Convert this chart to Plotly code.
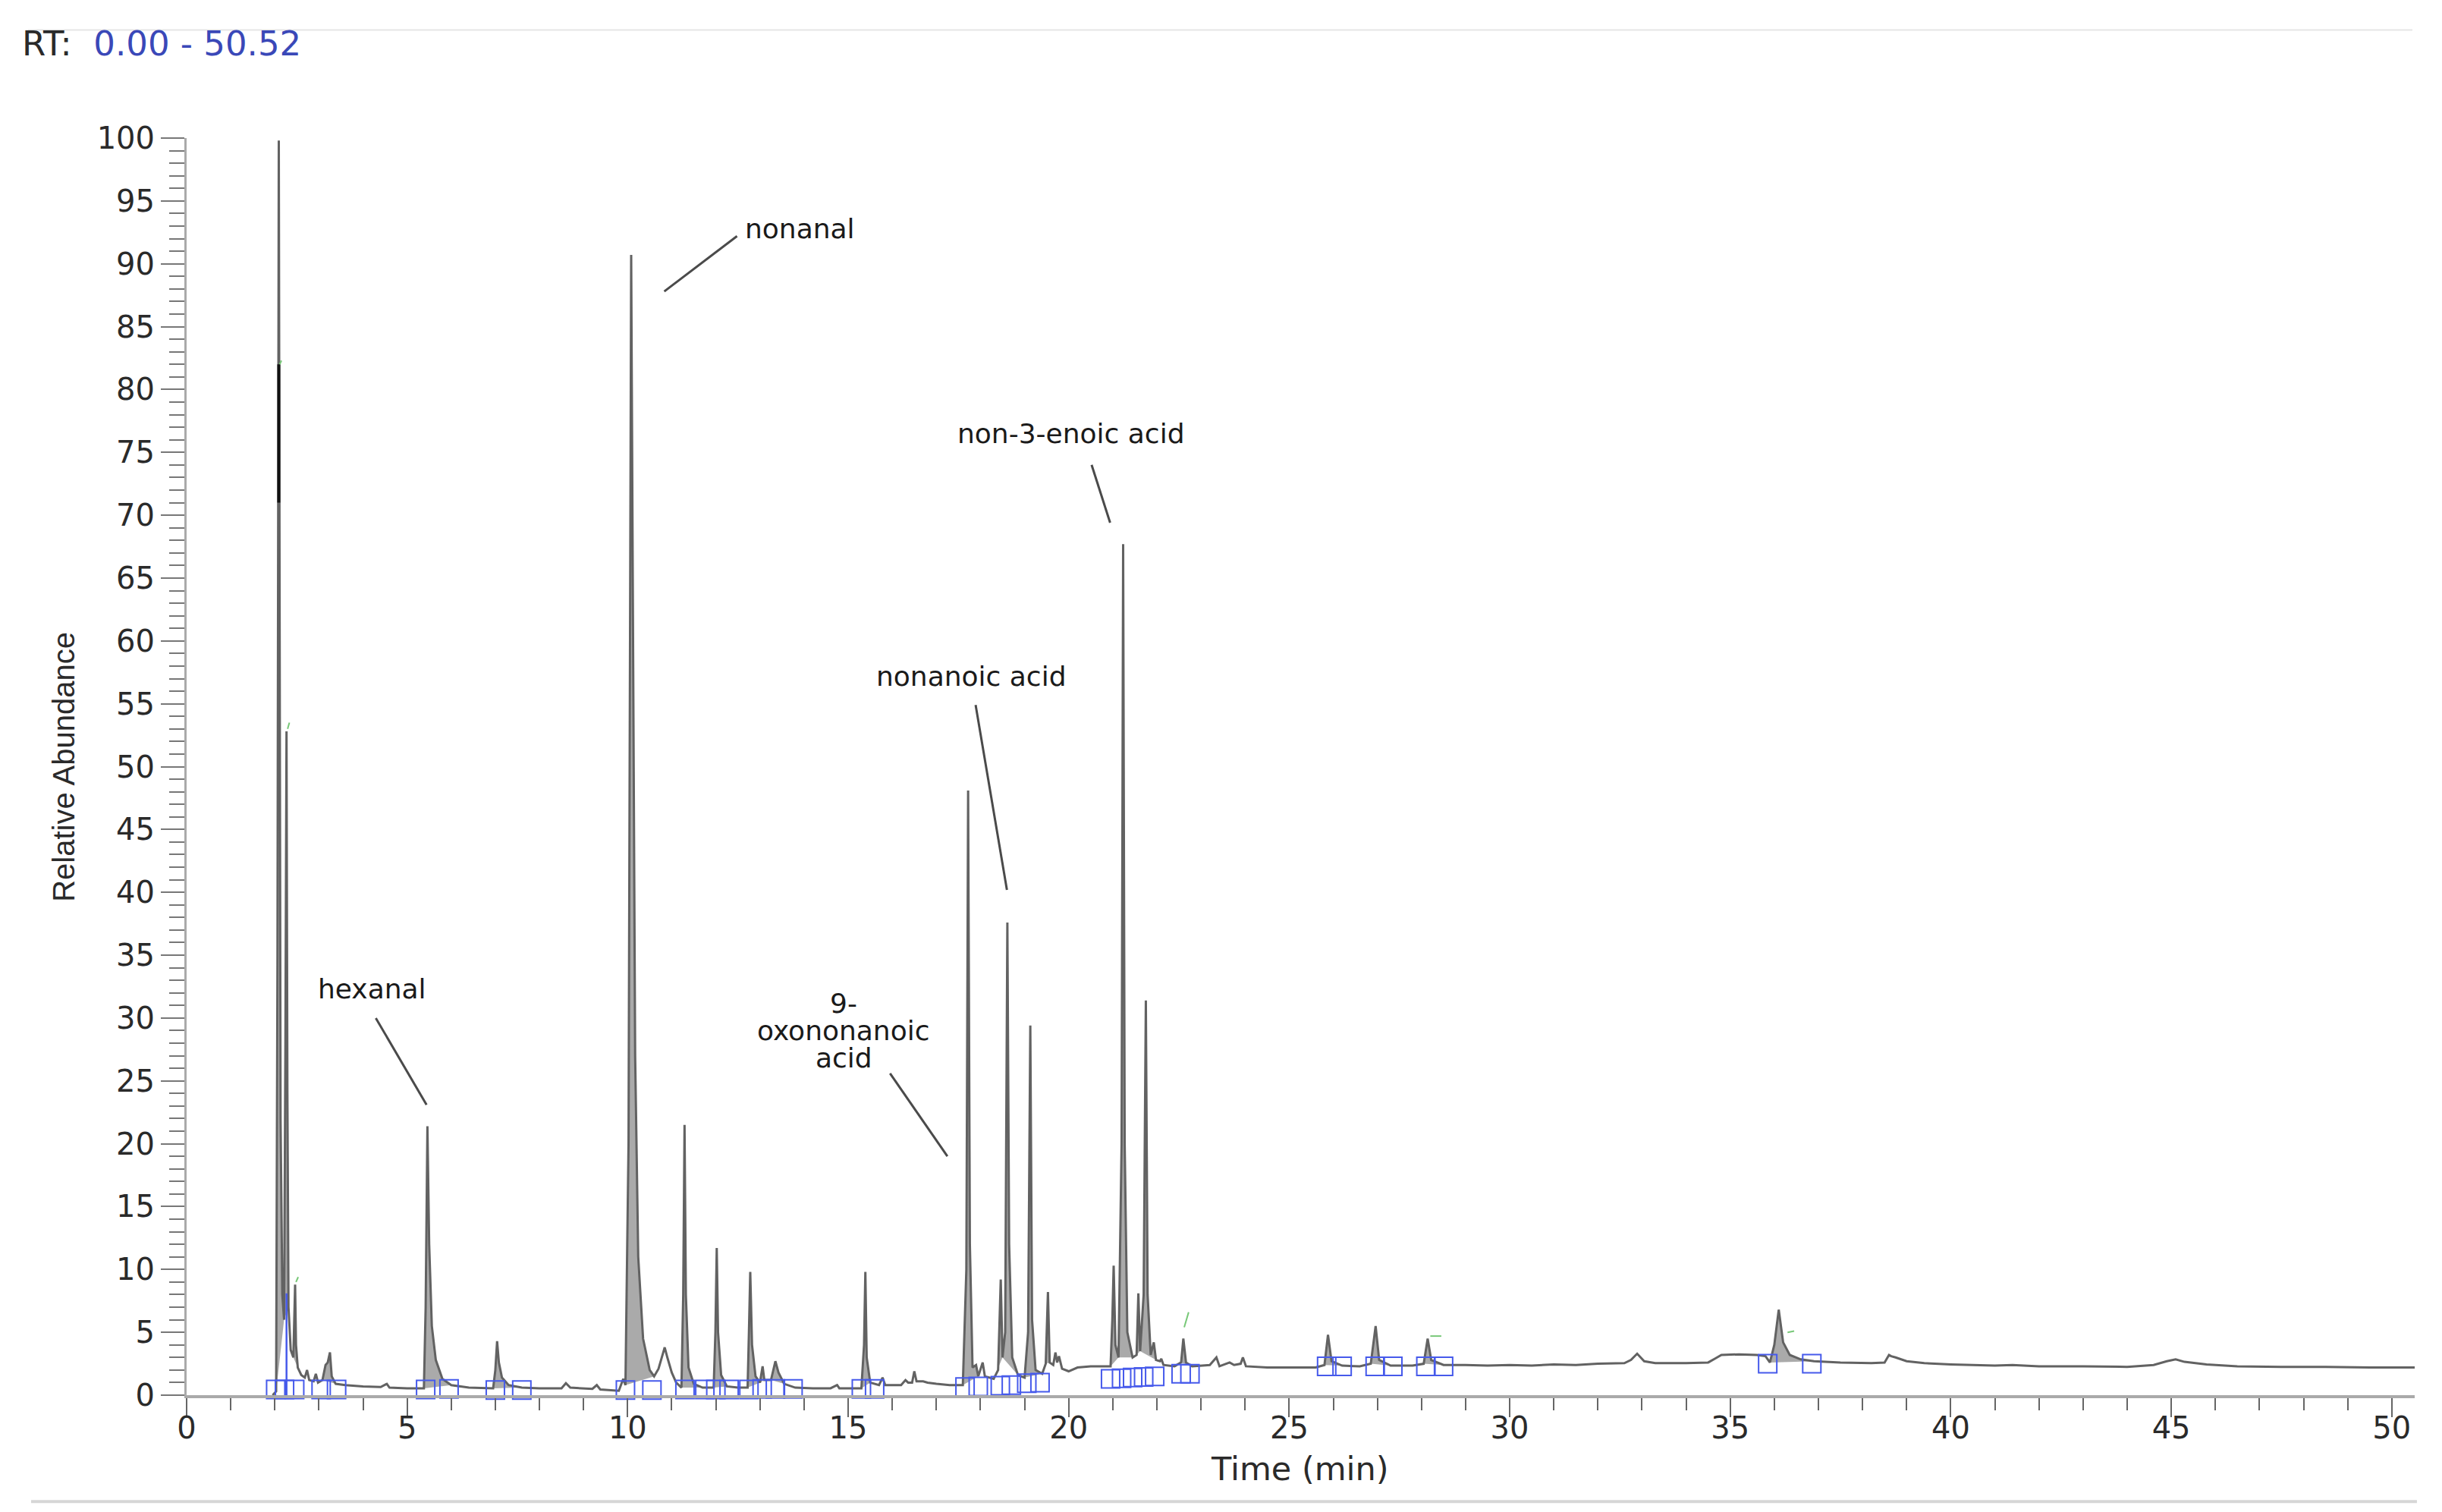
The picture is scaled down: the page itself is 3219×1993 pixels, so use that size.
import plotly.graph_objects as go

# ---------------- data ----------------
rt_min = [
    1.95, 2.03, 2.06, 2.09, 2.11, 2.13, 2.17, 2.21, 2.24, 2.265,
    2.285, 2.31, 2.36, 2.42, 2.46, 2.48, 2.52, 2.60, 2.68, 2.73,
    2.78, 2.88, 2.93, 2.98, 3.08, 3.15, 3.20, 3.25, 3.29, 3.38,
    3.6, 4.0, 4.4, 4.54, 4.6, 5.0, 5.38, 5.42, 5.46, 5.50,
    5.56, 5.65, 5.8, 6.0, 6.4, 6.95, 7.0, 7.04, 7.08, 7.15,
    7.3, 7.6, 8.0, 8.5, 8.6, 8.7, 9.2, 9.3, 9.38, 9.8,
    9.9, 9.95, 10.02, 10.08, 10.12, 10.17, 10.24, 10.35, 10.5, 10.6,
    10.7, 10.8, 10.84, 10.9, 11.0, 11.1, 11.22, 11.26, 11.29, 11.32,
    11.38, 11.5, 11.7, 11.95, 11.99, 12.02, 12.05, 12.12, 12.25, 12.5,
    12.72, 12.75, 12.78, 12.82, 12.9, 13.0, 13.06, 13.1, 13.25, 13.35,
    13.42, 13.55, 13.8, 14.2, 14.6, 14.75, 14.8, 15.3, 15.36, 15.39,
    15.42, 15.5, 15.7, 15.78, 15.84, 16.2, 16.3, 16.36, 16.45, 16.5,
    16.55, 16.7, 16.8, 17.0, 17.3, 17.6, 17.68, 17.72, 17.76, 17.82,
    17.9, 17.95, 18.05, 18.1, 18.3, 18.4, 18.46, 18.5, 18.56, 18.61,
    18.65, 18.72, 18.85, 19.0, 19.08, 19.13, 19.17, 19.25, 19.4, 19.48,
    19.53, 19.57, 19.65, 19.7, 19.74, 19.78, 19.85, 20.0, 20.2, 20.5,
    20.8, 20.95, 20.99, 21.02, 21.06, 21.13, 21.2, 21.235, 21.27, 21.33,
    21.45, 21.54, 21.58, 21.62, 21.70, 21.75, 21.79, 21.86, 21.93, 21.98,
    22.07, 22.1, 22.15, 22.4, 22.55, 22.6, 22.66, 22.8, 23.2, 23.35,
    23.42, 23.6, 23.65, 23.75, 23.9, 23.95, 24.02, 24.5, 25.0, 25.6,
    25.8, 25.88, 25.96, 26.2, 26.6, 26.85, 26.96, 27.04, 27.3, 27.8,
    28.05, 28.14, 28.22, 28.5, 29.0, 29.5, 30.0, 30.5, 31.0, 31.5,
    32.0, 32.6, 32.75, 32.89, 33.05, 33.3, 34.0, 34.5, 34.65, 34.8,
    35.2, 35.6, 35.8, 35.9, 36.0, 36.1, 36.2, 36.35, 36.6, 36.9,
    37.5, 38.2, 38.5, 38.6, 38.65, 38.75, 39.0, 39.4, 40.0, 41.0,
    41.4, 42.0, 43.0, 44.0, 44.6, 44.9, 45.1, 45.3, 45.8, 46.5,
    47.5, 48.5, 49.5, 50.52,
]
abundance = [
    0.0, 0.3, 35, 99.8, 60, 22, 8, 6, 28, 52.8,
    24, 7, 3.6, 3.0, 8.8, 4.0, 2.2, 1.6, 1.4, 2.0,
    1.2, 1.1, 1.7, 1.0, 1.2, 2.4, 2.6, 3.4, 1.5, 0.9,
    0.8, 0.7, 0.65, 0.9, 0.6, 0.55, 0.55, 7, 21.4, 12,
    5.5, 2.8, 1.3, 0.8, 0.6, 0.55, 2.0, 4.3, 2.6, 1.4,
    0.8, 0.6, 0.55, 0.55, 0.95, 0.6, 0.5, 0.8, 0.45, 0.35,
    1.3, 0.8, 20, 90.7, 62, 27, 11, 4.5, 2.0, 1.5,
    2.1, 3.4, 3.8, 3.0, 1.8, 1.0, 0.6, 8, 21.5, 8,
    2.2, 0.9, 0.6, 0.6, 5, 11.7, 5, 1.6, 0.7, 0.6,
    0.6, 5, 9.8, 4, 1.5, 1.0, 2.3, 1.2, 1.2, 2.7,
    1.8, 0.9, 0.6, 0.55, 0.55, 0.8, 0.55, 0.55, 4, 9.8,
    3, 1.0, 0.8, 1.4, 0.8, 0.8, 1.2, 1.0, 1.0, 1.9,
    1.1, 1.1, 1.0, 0.9, 0.8, 0.8, 10, 48.1, 12, 2.2,
    2.4, 1.5, 2.6, 1.5, 1.3, 2.0, 9.2, 3.0, 5.0, 37.6,
    12, 3, 1.6, 1.4, 5, 29.4, 6, 2.0, 1.7, 2.5,
    8.2, 2.6, 2.4, 3.4, 2.6, 3.1, 2.1, 1.9, 2.2, 2.3,
    2.3, 2.3, 6, 10.3, 4, 3, 20, 67.7, 20, 5,
    3, 3.2, 8.1, 3.5, 8, 31.4, 8, 3.2, 4.2, 2.8,
    2.7, 2.9, 2.4, 2.3, 2.6, 4.5, 2.6, 2.3, 2.4, 3.0,
    2.3, 2.5, 2.6, 2.4, 2.5, 3.0, 2.3, 2.2, 2.2, 2.2,
    2.4, 4.8, 2.7, 2.35, 2.3, 2.5, 5.5, 2.8, 2.35, 2.35,
    2.5, 4.5, 2.8, 2.4, 2.4, 2.35, 2.4, 2.35, 2.45, 2.4,
    2.5, 2.55, 2.8, 3.3, 2.7, 2.55, 2.55, 2.6, 2.9, 3.2,
    3.25, 3.2, 3.1, 2.6, 4.0, 6.8, 4.2, 3.2, 2.85, 2.7,
    2.6, 2.55, 2.6, 3.2, 3.1, 3.0, 2.7, 2.55, 2.45, 2.35,
    2.4, 2.3, 2.3, 2.25, 2.4, 2.7, 2.85, 2.65, 2.45, 2.3,
    2.25, 2.25, 2.2, 2.2,
]
assert len(rt_min) == len(abundance)

# integrated peak windows (start / end retention time, min)
peak_start = [2.03, 2.21, 2.42, 3.08, 5.38, 6.95, 9.95, 11.22, 11.95, 12.72,
              13.0, 13.25, 15.3, 17.6, 18.3, 18.5, 19.0, 19.48, 20.95, 21.13,
              21.54, 21.62, 22.55, 25.8, 26.85, 28.05, 35.9]
peak_end = [2.21, 2.31, 2.52, 3.38, 6.0, 7.6, 10.6, 11.7, 12.25, 13.0,
            13.1, 13.55, 15.5, 17.95, 18.5, 18.85, 19.4, 19.57, 21.13, 21.45,
            21.62, 21.98, 22.8, 26.2, 27.3, 28.5, 36.9]

# integration markers (blue boxes)
box_rt = [2.02, 2.22, 2.45, 3.05, 3.4, 5.42, 5.95, 7.0, 7.6, 9.95,
          10.55, 11.3, 11.75, 12.0, 12.3, 12.75, 13.05, 13.35, 13.75, 15.3,
          15.6, 17.65, 17.95, 18.45, 18.7, 19.05, 19.35, 20.95, 21.2, 21.45,
          21.7, 21.95, 22.55, 22.75, 25.85, 26.2, 26.95, 27.35, 28.1, 28.5,
          35.85, 36.85]
box_abund = [0.45, 0.45, 0.45, 0.45, 0.45, 0.45, 0.5, 0.4, 0.4, 0.4,
             0.4, 0.45, 0.45, 0.45, 0.45, 0.45, 0.5, 0.5, 0.5, 0.5,
             0.5, 0.65, 0.7, 0.75, 0.8, 0.95, 1.0, 1.3, 1.35, 1.4,
             1.45, 1.5, 1.7, 1.7, 2.3, 2.3, 2.3, 2.3, 2.3, 2.3,
             2.5, 2.5]

# darker overlay on the first peak and the blue trace at 2.26 min
overlay_rt = [2.09, 2.09]
overlay_abund = [71, 82]
blue_rt = [2.265, 2.265]
blue_abund = [0, 8.1]

# small green marker ticks
green_rt = [2.11, 2.15, None, 2.29, 2.33, None, 2.48, 2.53, None,
            22.62, 22.72, None, 28.2, 28.45, None, 36.3, 36.45]
green_abund = [82, 82.3, None, 53, 53.5, None, 9, 9.4, None,
               5.4, 6.6, None, 4.7, 4.7, None, 5.0, 5.1]

# labels
label_text = ["hexanal", "nonanal", "9-", "oxononanoic", "acid",
              "nonanoic acid", "non-3-enoic acid"]
label_rt = [4.2, 13.9, 14.9, 14.9, 14.9, 17.8, 20.05]
label_abund = [32.3, 92.8, 31.2, 29.0, 26.8, 57.2, 76.5]

leader_rt0 = [4.29, 12.48, 15.95, 17.89, 20.52]
leader_ab0 = [30.0, 92.2, 25.6, 54.9, 74.0]
leader_rt1 = [5.44, 10.83, 17.25, 18.60, 20.94]
leader_ab1 = [23.1, 87.8, 19.0, 40.2, 69.4]

x_tick_vals = [0, 5, 10, 15, 20, 25, 30, 35, 40, 45, 50]
y_tick_vals = list(range(0, 101, 5))

# ---------------- figure ----------------
fig = go.Figure()

LINE_COL = "#626262"
FILL_COL = "rgba(155,155,155,0.85)"
BOX_COL = "rgb(70,90,235)"

# filled integrated peaks
for a, b in zip(peak_start, peak_end):
    xs = [t for t in rt_min if a <= t <= b]
    ys = [v for t, v in zip(rt_min, abundance) if a <= t <= b]
    fig.add_trace(go.Scatter(x=xs, y=ys, mode="lines", fill="toself",
                             fillcolor=FILL_COL, line=dict(width=0),
                             hoverinfo="skip", showlegend=False))

# main chromatogram line
fig.add_trace(go.Scatter(x=rt_min, y=abundance, mode="lines",
                         line=dict(color=LINE_COL, width=3),
                         showlegend=False))

fig.add_trace(go.Scatter(x=overlay_rt, y=overlay_abund, mode="lines",
                         line=dict(color="#111111", width=4), showlegend=False))
fig.add_trace(go.Scatter(x=blue_rt, y=blue_abund, mode="lines",
                         line=dict(color=BOX_COL, width=2.5), showlegend=False))
fig.add_trace(go.Scatter(x=green_rt, y=green_abund, mode="lines",
                         line=dict(color="rgb(120,200,120)", width=2),
                         connectgaps=False, showlegend=False))

fig.add_trace(go.Scatter(x=box_rt, y=box_abund, mode="markers",
                         marker=dict(symbol="square-open", size=24,
                                     color=BOX_COL, line=dict(width=2, color=BOX_COL)),
                         cliponaxis=False, showlegend=False))

# leader lines
for x0, y0, x1, y1 in zip(leader_rt0, leader_ab0, leader_rt1, leader_ab1):
    fig.add_shape(type="line", xref="x", yref="y", x0=x0, y0=y0, x1=x1, y1=y1,
                  line=dict(color="#4a4a4a", width=3))

# compound labels
for txt, x, y in zip(label_text, label_rt, label_abund):
    fig.add_annotation(x=x, y=y, xref="x", yref="y", text=txt, showarrow=False,
                       xanchor="center", yanchor="middle",
                       font=dict(family="DejaVu Sans", size=36, color="#1a1a1a"))

# header and titles
fig.add_annotation(xref="paper", yref="paper", x=-0.0745, y=1.075,
                   xanchor="left", yanchor="middle", showarrow=False,
                   text="RT:&nbsp; <span style='color:#3a48b8'>0.00 - 50.52</span>",
                   font=dict(family="DejaVu Sans", size=45, color="#2a2a2a"))
fig.add_annotation(xref="paper", yref="paper", x=-0.0552, y=0.4997,
                   xanchor="center", yanchor="middle", showarrow=False, textangle=-90,
                   text="Relative Abundance",
                   font=dict(family="Liberation Sans, Arial", size=40, color="#2a2a2a"))
fig.add_annotation(xref="paper", yref="paper", x=0.4998, y=-0.0585,
                   xanchor="center", yanchor="middle", showarrow=False,
                   text="Time (min)",
                   font=dict(family="DejaVu Sans", size=43, color="#2a2a2a"))

# frame rules
fig.add_shape(type="line", xref="paper", yref="paper", x0=-0.0712, x1=0.999,
              y0=1.086, y1=1.086, line=dict(color="#e6e6e6", width=2))
fig.add_shape(type="line", xref="paper", yref="paper", x0=-0.0698, x1=1.001,
              y0=-0.0846, y1=-0.0846, line=dict(color="#d6d6d6", width=4))

fig.update_layout(
    width=3219, height=1993,
    margin=dict(l=238, r=44, t=174, b=162),
    plot_bgcolor="white", paper_bgcolor="white",
    showlegend=False,
    xaxis=dict(range=[0, 50.52], tickmode="array", tickvals=x_tick_vals,
               ticktext=[str(v) for v in x_tick_vals],
               ticks="outside", ticklen=25, tickwidth=2, tickcolor="#666666",
               ticklabelstandoff=-20,
               minor=dict(dtick=1, tick0=0, ticks="outside", ticklen=16,
                          tickwidth=2, tickcolor="#666666", showgrid=False),
               showline=True, linecolor="#aaaaaa", linewidth=4,
               showgrid=False, zeroline=False,
               tickfont=dict(family="DejaVu Sans", size=40, color="#2a2a2a")),
    yaxis=dict(range=[0, 100], tickmode="array", tickvals=y_tick_vals,
               ticktext=[str(v) for v in y_tick_vals],
               ticks="outside", ticklen=31, tickwidth=2, tickcolor="#777777",
               minor=dict(dtick=1, tick0=0, ticks="outside", ticklen=20,
                          tickwidth=2, tickcolor="#777777", showgrid=False),
               showline=True, linecolor="#aaaaaa", linewidth=3,
               showgrid=False, zeroline=False,
               tickfont=dict(family="DejaVu Sans", size=40, color="#2a2a2a")),
)

fig.write_html("out.html")
